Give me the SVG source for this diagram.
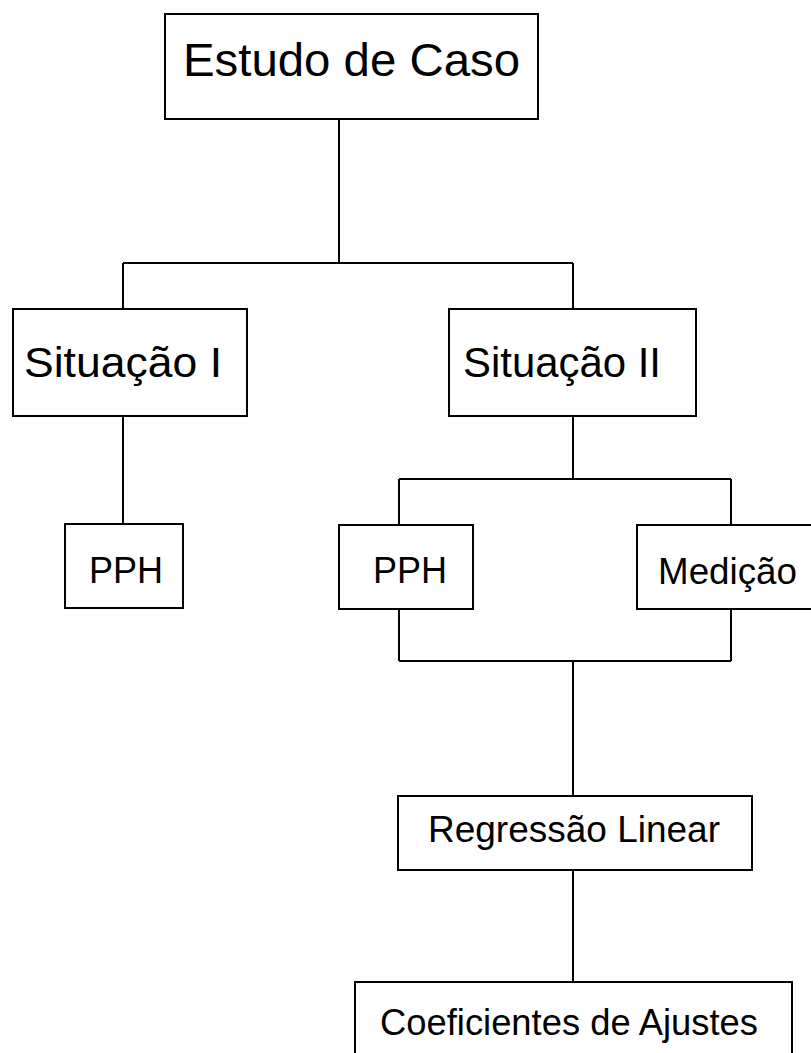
<svg xmlns="http://www.w3.org/2000/svg" width="811" height="1053" viewBox="0 0 811 1053">
<style>
.box{fill:#fff;stroke:#000;stroke-width:2}
.con{fill:none;stroke:#000;stroke-width:2}
text{font-family:"Liberation Sans",Arial,sans-serif;fill:#000}
</style>
<rect width="811" height="1053" fill="#fff"/>
<g id="connectors">
<path class="con" d="M339,120 V263 M123,263 H573 M123,263 V309 M573,263 V309"/>
<path class="con" d="M123,416 V524"/>
<path class="con" d="M573,416 V479 M399,479 H731 M399,479 V525 M731,479 V525"/>
<path class="con" d="M399,609 V661 M731,609 V661 M399,661 H731 M573,661 V796"/>
<path class="con" d="M573,870 V982"/>
</g>
<g id="estudo">
<rect class="box" x="165" y="14" width="373" height="105"/>
<text x="183" y="76" font-size="47" textLength="337" lengthAdjust="spacingAndGlyphs">Estudo de Caso</text>
</g>
<g id="sit1">
<rect class="box" x="13" y="309" width="234" height="107"/>
<text x="24" y="377" font-size="43" textLength="198" lengthAdjust="spacingAndGlyphs">Situação I</text>
</g>
<g id="sit2">
<rect class="box" x="449" y="309" width="247" height="107"/>
<text x="463" y="377" font-size="43" textLength="198" lengthAdjust="spacingAndGlyphs">Situação II</text>
</g>
<g id="pph1">
<rect class="box" x="65" y="524" width="118" height="84"/>
<text x="89" y="583" font-size="36">PPH</text>
</g>
<g id="pph2">
<rect class="box" x="339" y="525" width="134" height="84"/>
<text x="373" y="583" font-size="36">PPH</text>
</g>
<g id="medicao">
<rect class="box" x="637" y="525" width="180" height="84"/>
<text x="658" y="584" font-size="36" textLength="139" lengthAdjust="spacingAndGlyphs">Medição</text>
</g>
<g id="regressao">
<rect class="box" x="398" y="796" width="354" height="74"/>
<text x="428" y="842" font-size="37" textLength="292" lengthAdjust="spacingAndGlyphs">Regressão Linear</text>
</g>
<g id="coef">
<rect class="box" x="355" y="982" width="437" height="90"/>
<text x="380" y="1035" font-size="36" textLength="378" lengthAdjust="spacingAndGlyphs">Coeficientes de Ajustes</text>
</g>
</svg>
